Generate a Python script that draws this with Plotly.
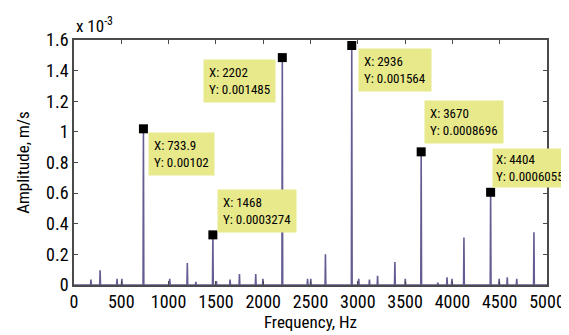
import plotly.graph_objects as go

# Labeled (data-cursor) peaks
peak_freq = [733.9, 1468, 2202, 2936, 3670, 4404]
peak_amp = [0.00102, 0.0003274, 0.001485, 0.001564, 0.0008696, 0.0006055]

# Minor spectral lines (Hz, m/s)
minor_freq = [179, 276, 455, 506, 1012, 1198, 1288, 1505, 1650, 1749, 1921, 1997,
              2469, 2503, 2658, 3010, 3123, 3209, 3392, 3502, 3846, 3943, 3995,
              4122, 4494, 4580, 4680, 4862]
minor_amp = [0.000035, 0.000096, 0.00004, 0.00004, 0.00004, 0.000144, 0.00002, 0.000025,
             0.000035, 0.000072, 0.000072, 0.00004, 0.00004, 0.00004, 0.0002, 0.00004,
             0.000035, 0.00006, 0.00015, 0.00004, 0.000015, 0.00005, 0.00004,
             0.00031, 0.00004, 0.00005, 0.00004, 0.000345]

y_tickvals = [0, 0.0002, 0.0004, 0.0006, 0.0008, 0.001, 0.0012, 0.0014, 0.0016]
y_ticktext = ["0", "0.2", "0.4", "0.6", "0.8", "1", "1.2", "1.4", "1.6"]
x_tickvals = [0, 500, 1000, 1500, 2000, 2500, 3000, 3500, 4000, 4500, 5000]

FONT = "Liberation Sans Narrow, Roboto Condensed, Arial Narrow, sans-serif"

# build spectrum line (stems from baseline)
all_f = sorted(zip(peak_freq + minor_freq, peak_amp + minor_amp))
xs, ys = [0.0], [0.0]
for f, a in all_f:
    xs += [f - 4, f, f + 4]
    ys += [0.0, a, 0.0]
xs.append(5000.0)
ys.append(0.0)

fig = go.Figure()
fig.add_trace(go.Scatter(x=xs, y=ys, mode="lines",
                         line=dict(color="#625d92", width=1.6),
                         hoverinfo="skip", showlegend=False, cliponaxis=False))
fig.add_trace(go.Scatter(x=peak_freq, y=peak_amp, mode="markers",
                         marker=dict(symbol="square", size=9, color="black"),
                         showlegend=False, cliponaxis=False))

placements = [  # xanchor, yanchor, xshift, yshift, borderpad
    ("left", "top", 5, -3, 5),
    ("left", "bottom", 4, 2, 5),
    ("right", "top", -6, -1, 5),
    ("left", "top", 6, -2, 5),
    ("left", "bottom", 3, 8, 5),
    ("left", "bottom", 1, 4, 3),
]
for f, a, (xa, ya, xsft, ysft, bp) in zip(peak_freq, peak_amp, placements):
    fig.add_annotation(x=f, y=a, xref="x", yref="y",
                       text=f"X: {f:g}<br>Y: {a:.7g}",
                       showarrow=False, xanchor=xa, yanchor=ya,
                       xshift=xsft, yshift=ysft, align="left",
                       bgcolor="#e8e98a", borderpad=bp,
                       font=dict(family=FONT, size=13, color="black"))

fig.add_annotation(x=0, y=1, xref="paper", yref="paper",
                   text="x 10<sup>-3</sup>", showarrow=False,
                   xanchor="left", yanchor="bottom", xshift=0, yshift=2,
                   font=dict(family=FONT, size=17, color="black"))

axis_common = dict(showline=True, linecolor="#4a4a4a", linewidth=1.5, mirror="ticks",
                   ticks="inside", ticklen=4, tickcolor="#4a4a4a", showgrid=False,
                   zeroline=False, tickfont=dict(family=FONT, size=18, color="black"))

fig.update_xaxes(range=[0, 5000], tickvals=x_tickvals,
                 title=dict(text="Frequency, Hz", font=dict(family=FONT, size=17, color="black"),
                            standoff=4),
                 **axis_common)
fig.update_yaxes(range=[0, 0.0016], tickvals=y_tickvals, ticktext=y_ticktext,
                 title=dict(text="Amplitude, m/s", font=dict(family=FONT, size=17, color="black"),
                            standoff=12),
                 **axis_common)

fig.update_layout(width=569, height=335, margin=dict(l=66, r=19, t=32, b=58),
                  paper_bgcolor="white", plot_bgcolor="white",
                  font=dict(family=FONT), showlegend=False)

fig.write_html("out.html")
